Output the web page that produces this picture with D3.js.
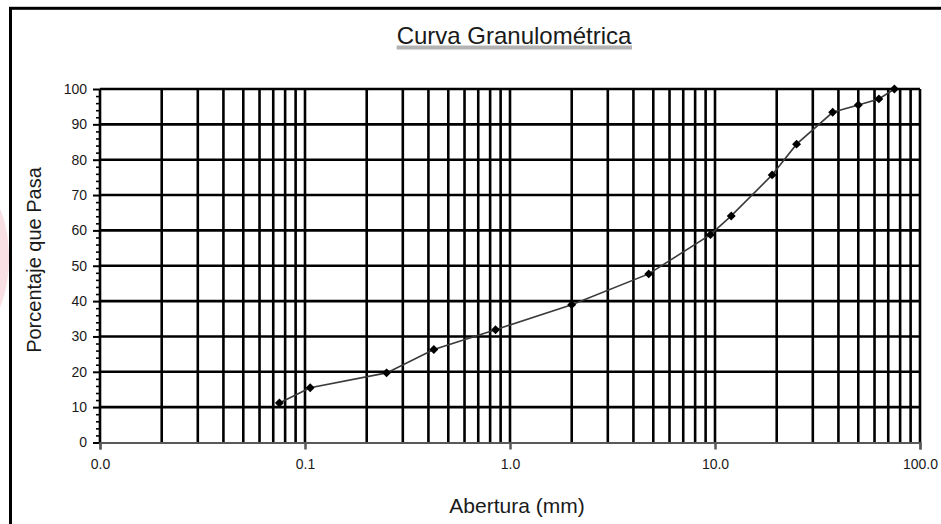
<!DOCTYPE html>
<html>
<head>
<meta charset="utf-8">
<script src="https://cdn.jsdelivr.net/npm/d3@7"></script>
<style>
  body { margin: 0; background: #fff; }
  text { font-family: "Liberation Sans", Arial, sans-serif; fill: #1a1a1a; }
</style>
</head>
<body>
<div id="chart"></div>
<script>
// abertura del tamiz (mm) y porcentaje que pasa
var abertura = [75, 63, 50, 37.5, 25, 19, 12, 9.5, 4.75, 2.0, 0.85, 0.425, 0.25, 0.106, 0.075];
var pasa = [100, 97.2, 95.5, 93.4, 84.4, 75.7, 64.1, 58.8, 47.7, 39.0, 31.9, 26.3, 19.7, 15.5, 11.2];

var xTicks = [0.01, 0.1, 1, 10, 100];
var yTicks = [0, 10, 20, 30, 40, 50, 60, 70, 80, 90, 100];
var yMinorTicks = [2, 4, 6, 8, 12, 14, 16, 18, 22, 24, 26, 28, 32, 34, 36, 38, 42, 44, 46, 48,
  52, 54, 56, 58, 62, 64, 66, 68, 72, 74, 76, 78, 82, 84, 86, 88, 92, 94, 96, 98];

var svgWidth = 941;
var svgHeight = 524;

var margin = {
  top: 89,
  right: 21,
  bottom: 81.5,
  left: 100
};

var width = svgWidth - margin.left - margin.right;
var height = svgHeight - margin.top - margin.bottom;

var data = abertura.map(function(d, i) {
  return { size: d, pass: pasa[i] };
});

var svg = d3.select("#chart")
  .append("svg")
  .attr("width", svgWidth)
  .attr("height", svgHeight);

svg.append("rect")
  .attr("width", svgWidth)
  .attr("height", svgHeight)
  .attr("fill", "#fff");

// faint watermark on the left edge
svg.append("ellipse")
  .attr("cx", -18)
  .attr("cy", 258)
  .attr("rx", 27)
  .attr("ry", 66)
  .attr("fill", "#f6d3da")
  .attr("opacity", 0.7);

// outer chart border (cut off at right and bottom)
svg.append("rect")
  .attr("x", 10.5)
  .attr("y", 8.3)
  .attr("width", 1000)
  .attr("height", 1000)
  .attr("fill", "none")
  .attr("stroke", "#000")
  .attr("stroke-width", 3);

var chartGroup = svg.append("g")
  .attr("transform", `translate(${margin.left}, ${margin.top})`);

var x = d3.scaleLog()
  .domain([0.01, 100])
  .range([0, width]);

var y = d3.scaleLinear()
  .domain([0, 100])
  .range([height, 0]);

// vertical grid
chartGroup.append("g")
  .selectAll("line")
  .data(x.ticks())
  .enter()
  .append("line")
  .attr("x1", d => x(d))
  .attr("x2", d => x(d))
  .attr("y1", 0)
  .attr("y2", height)
  .attr("stroke", "#000")
  .attr("stroke-width", 2.6);

// horizontal grid
chartGroup.append("g")
  .selectAll("line")
  .data(yTicks.filter(d => d > 0))
  .enter()
  .append("line")
  .attr("x1", 0)
  .attr("x2", width)
  .attr("y1", d => y(d))
  .attr("y2", d => y(d))
  .attr("stroke", "#000")
  .attr("stroke-width", 2.6);

// y axis
var yAxis = chartGroup.append("g")
  .call(d3.axisLeft(y).tickValues(yTicks).tickSize(7).tickPadding(6));
yAxis.select(".domain").remove();
yAxis.selectAll(".tick line").attr("stroke", "#000").attr("stroke-width", 2);
yAxis.selectAll("text")
  .attr("font-size", 14)
  .attr("fill", "#1a1a1a");

var yMinor = chartGroup.append("g")
  .call(d3.axisLeft(y).tickValues(yMinorTicks).tickSize(4).tickFormat(""));
yMinor.select(".domain").remove();
yMinor.selectAll(".tick line").attr("stroke", "#000").attr("stroke-width", 1.6);

// x axis
var xAxis = chartGroup.append("g")
  .attr("transform", `translate(0, ${height})`)
  .call(d3.axisBottom(x).tickValues(xTicks).tickSize(7).tickPadding(10).tickFormat(d3.format(".1f")));
xAxis.select(".domain")
  .attr("stroke", "#595959")
  .attr("stroke-width", 2);
xAxis.selectAll(".tick line").attr("stroke", "#595959").attr("stroke-width", 2.5);
xAxis.selectAll("text")
  .attr("font-size", 14)
  .attr("fill", "#1a1a1a");

// curve
var line = d3.line()
  .x(d => x(d.size))
  .y(d => y(d.pass));

chartGroup.append("path")
  .datum(data)
  .attr("d", line)
  .attr("fill", "none")
  .attr("stroke", "#3a3a3a")
  .attr("stroke-width", 1.6);

chartGroup.append("g")
  .selectAll("path")
  .data(data)
  .enter()
  .append("path")
  .attr("d", d3.symbol().type(d3.symbolSquare).size(40))
  .attr("transform", d => `translate(${x(d.size)}, ${y(d.pass)}) rotate(45)`)
  .attr("fill", "#000");

// titles
var title = svg.append("text")
  .attr("x", 514)
  .attr("y", 44)
  .attr("text-anchor", "middle")
  .attr("font-size", 24)
  .text("Curva Granulométrica");

var tb = title.node().getBBox();
svg.append("rect")
  .attr("x", tb.x)
  .attr("y", 45.5)
  .attr("width", tb.width)
  .attr("height", 4)
  .attr("fill", "#b3b3b3");

svg.append("text")
  .attr("transform", "translate(41, 260) rotate(-90)")
  .attr("text-anchor", "middle")
  .attr("font-size", 20)
  .text("Porcentaje que Pasa");

svg.append("text")
  .attr("x", 517)
  .attr("y", 513)
  .attr("text-anchor", "middle")
  .attr("font-size", 21)
  .text("Abertura (mm)");
</script>
</body>
</html>
